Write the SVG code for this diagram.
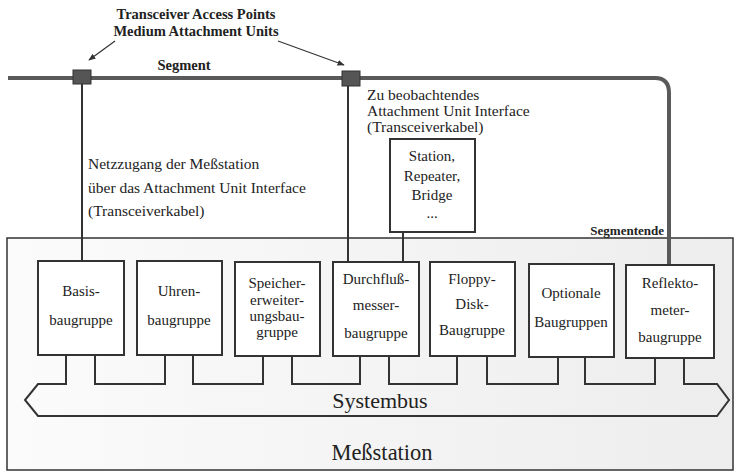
<svg xmlns="http://www.w3.org/2000/svg" width="734" height="474" viewBox="0 0 734 474">
  <defs>
    <linearGradient id="stationFill" x1="0" y1="0" x2="1" y2="0">
      <stop offset="0" stop-color="#fbfbfb"/>
      <stop offset="1" stop-color="#ededed"/>
    </linearGradient>
    <marker id="tip" viewBox="0 0 10 10" refX="9" refY="5" markerWidth="6" markerHeight="6" orient="auto">
      <path d="M0 1 L10 5 L0 9 z" fill="#333"/>
    </marker>
    <style>
      text { font-family: "Liberation Serif", "Times New Roman", serif; fill: #222; }
      .lbl { font-size: 15.5px; }
      .bold { font-size: 14.5px; font-weight: bold; }
      .mod { font-size: 15px; text-anchor: middle; }
      .box { fill: #ffffff; stroke: #333; stroke-width: 2; }
      .wire { fill: none; stroke: #333; stroke-width: 2; }
      .cable { fill: none; stroke: #5a5a5a; stroke-width: 4; stroke-linejoin: round; }
      .mau { fill: #555; stroke: #333; stroke-width: 1; }
      .lead { fill: none; stroke: #333; stroke-width: 1.2; }
    </style>
  </defs>

  <!-- measurement station enclosure -->
  <g id="messstation">
    <rect x="7" y="238" width="726" height="232" fill="url(#stationFill)" stroke="#333" stroke-width="1.5"/>
    <text x="382" y="460" text-anchor="middle" style="font-size:22.5px">Meßstation</text>
  </g>

  <!-- connectors -->
  <g id="connectors">
    <!-- Ethernet segment with its end loop into the reflectometer -->
    <path class="cable" d="M8 78 H655 Q669 78 669 93 V264"/>
    <!-- transceiver cables -->
    <path class="wire" d="M82 84 V261"/>
    <path class="wire" d="M348 86 V262"/>
    <path class="wire" d="M403 232 V262"/>
    <!-- leader lines to the access points -->
    <path class="lead" d="M115 41 L89 60" marker-end="url(#tip)"/>
    <path class="lead" d="M278 41 L344 65" marker-end="url(#tip)"/>
    <!-- system bus outline -->
    <path class="wire" d="M66 355 V384 H38 L25 400 L38 416 H717 L729 400 L717 384 H684 V357"/>
    <path class="wire" d="M95 355 V384 H165 V355"/>
    <path class="wire" d="M193 355 V384 H263 V356"/>
    <path class="wire" d="M292 356 V384 H360 V356"/>
    <path class="wire" d="M389 356 V384 H457 V356"/>
    <path class="wire" d="M487 356 V384 H558 V357"/>
    <path class="wire" d="M585 357 V384 H655 V357"/>
  </g>

  <!-- medium attachment units -->
  <g id="mau-left"><rect class="mau" x="73" y="70" width="18" height="14"/></g>
  <g id="mau-right"><rect class="mau" x="342" y="71" width="18" height="15"/></g>

  <!-- free labels -->
  <g id="labels">
    <text class="bold" x="196" y="19" text-anchor="middle">Transceiver Access Points</text>
    <text class="bold" x="196" y="36" text-anchor="middle">Medium Attachment Units</text>
    <text class="bold" x="184" y="70" text-anchor="middle">Segment</text>
    <text class="lbl" x="88" y="169">Netzzugang der Meßstation</text>
    <text class="lbl" x="88" y="193">über das Attachment Unit Interface</text>
    <text class="lbl" x="88" y="216">(Transceiverkabel)</text>
    <text class="lbl" x="367" y="100">Zu beobachtendes</text>
    <text class="lbl" x="367" y="116">Attachment Unit Interface</text>
    <text class="lbl" x="367" y="132">(Transceiverkabel)</text>
    <text x="664" y="235" text-anchor="end" style="font-size:13px;font-weight:bold">Segmentende</text>
    <text x="380" y="408" text-anchor="middle" style="font-size:22px">Systembus</text>
  </g>

  <!-- observed station -->
  <g id="station">
    <rect class="box" x="390" y="139" width="85" height="93"/>
    <text class="mod" x="432" y="161">Station,</text>
    <text class="mod" x="432" y="181">Repeater,</text>
    <text class="mod" x="432" y="200">Bridge</text>
    <text class="mod" x="432" y="218">...</text>
  </g>

  <!-- plug-in modules -->
  <g id="basis">
    <rect class="box" x="38" y="261" width="86" height="94"/>
    <text class="mod" x="81" y="296">Basis-</text>
    <text class="mod" x="81" y="325">baugruppe</text>
  </g>
  <g id="uhren">
    <rect class="box" x="137" y="261" width="85" height="94"/>
    <text class="mod" x="179" y="296">Uhren-</text>
    <text class="mod" x="179" y="325">baugruppe</text>
  </g>
  <g id="speicher">
    <rect class="box" x="235" y="262" width="85" height="94"/>
    <text class="mod" x="277" y="288">Speicher-</text>
    <text class="mod" x="277" y="305">erweiter-</text>
    <text class="mod" x="277" y="321">ungsbau-</text>
    <text class="mod" x="277" y="337">gruppe</text>
  </g>
  <g id="durchfluss">
    <rect class="box" x="333" y="262" width="86" height="94"/>
    <text class="mod" x="376" y="284">Durchfluß-</text>
    <text class="mod" x="376" y="310">messer-</text>
    <text class="mod" x="376" y="338">baugruppe</text>
  </g>
  <g id="floppy">
    <rect class="box" x="430" y="262" width="85" height="94"/>
    <text class="mod" x="472" y="284">Floppy-</text>
    <text class="mod" x="472" y="309">Disk-</text>
    <text class="mod" x="472" y="335">Baugruppe</text>
  </g>
  <g id="optionale">
    <rect class="box" x="529" y="264" width="85" height="93"/>
    <text class="mod" x="571" y="298">Optionale</text>
    <text class="mod" x="571" y="327">Baugruppen</text>
  </g>
  <g id="reflekto">
    <rect class="box" x="626" y="265" width="88" height="93"/>
    <text class="mod" x="670" y="288">Reflekto-</text>
    <text class="mod" x="670" y="315">meter-</text>
    <text class="mod" x="670" y="342">baugruppe</text>
  </g>
</svg>
